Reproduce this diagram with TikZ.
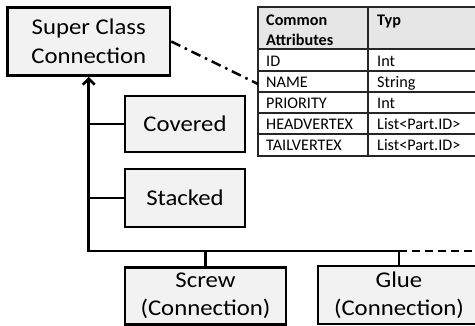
\documentclass[tikz,border=0pt]{standalone}
\usepackage{fontspec}
\setmainfont[FakeStretch=1.1]{Carlito}
\newfontfamily\tablefont{Carlito}
\usetikzlibrary{arrows.meta}
\definecolor{boxfill}{HTML}{F2F2F2}
\definecolor{headfill}{HTML}{E6E6E6}
\definecolor{gridline}{HTML}{262626}
\begin{document}
\begin{tikzpicture}[x=1pt,y=-1pt,
  cls/.style={draw=black,line width=2.5pt,fill=boxfill,inner sep=0pt,align=center,
    font=\fontsize{22.5}{28.5}\selectfont},
  link/.style={line width=2.7pt,line join=miter},
  gridrule/.style={draw=gridline,line width=1.5pt},
  cell/.style={anchor=base west,inner sep=0pt,font=\tablefont\fontsize{16.2}{20}\selectfont},
  headcell/.style={cell,font=\tablefont\fontsize{16.2}{20}\selectfont\bfseries},
  dashdot/.style={line width=2.5pt,dash pattern=on 10pt off 5pt on 2.5pt off 5pt},
  dashline/.style={line width=2.5pt,dash pattern=on 8pt off 5pt}
]
\useasboundingbox (0,0) rectangle (475,325);
\clip (0,0) rectangle (475,325);
\fill[white] (0,0) rectangle (475,325);

% class boxes
\node[cls,minimum width=162.5pt,minimum height=68pt] (sup) at (88.75,41.5) {Super Class\\Connection};
\node[cls,minimum width=120pt,minimum height=56pt] (cov) at (185,124) {Covered};
\node[cls,minimum width=120pt,minimum height=58pt] (stk) at (185,198) {Stacked};
\node[cls,minimum width=161pt,minimum height=57pt] (scr) at (205.5,296) {Screw\\(Connection)};
\node[cls,minimum width=162pt,minimum height=58pt] (glu) at (399,295) {Glue\\(Connection)};

% attribute table
\fill[headfill] (258,7) rectangle (480,49);
\draw[gridrule] (258,7) rectangle (480,156);
\foreach \yy in {49,71,92,113,134} \draw[gridrule] (258,\yy) -- (480,\yy);
\draw[gridrule] (368,7) -- (368,156);
\node[headcell] (h1a) at (266,25) {Common};
\node[headcell] (h1b) at (266,45) {Attributes};
\node[headcell] (h2) at (377,25) {Typ};
\node[cell] (a1) at (266,66) {ID};
\node[cell] (t1) at (377,66) {Int};
\node[cell] (a2) at (266,87) {NAME};
\node[cell] (t2) at (377,87) {String};
\node[cell] (a3) at (266,108) {PRIORITY};
\node[cell] (t3) at (377,108) {Int};
\node[cell] (a4) at (266,129) {HEADVERTEX};
\node[cell] (t4) at (377,129) {List<Part.ID>};
\node[cell] (a5) at (266,150) {TAILVERTEX};
\node[cell] (t5) at (377,150) {List<Part.ID>};
\coordinate (tbl) at (258,84);

% connectors
\coordinate (trunk) at (88.75,251);
\coordinate (busend) at (399,251);
\coordinate (edge) at (480,251);
\draw[link,{Straight Barb[length=6pt,width=12pt]}-] (sup.south) -- (trunk) -- (busend);
\draw[link] (cov.west) -- (cov.west -| trunk);
\draw[link] (stk.west) -- (stk.west -| trunk);
\draw[link] (scr.north) -- (scr.north |- trunk);
\draw[link] (glu.north) -- (busend);
\draw[dashline] (busend) -- (edge);
\draw[dashdot] (sup.east) -- (tbl);
\end{tikzpicture}
\end{document}
